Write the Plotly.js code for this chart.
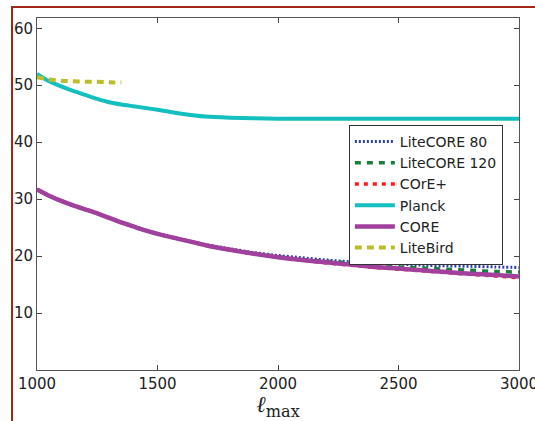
<!DOCTYPE html>
<html>
<head>
<meta charset="utf-8">
<script src="https://cdn.plot.ly/plotly-3.0.1.min.js"></script>
<style>
  html, body { margin: 0; padding: 0; background: #fff; }
  #wrap { position: relative; width: 535px; height: 421px; }
  #chart { width: 535px; height: 421px; }
  #frame {
    position: absolute; left: 11px; top: 6px; width: 530px; height: 420px;
    border-top: 2px solid #a0281a; border-left: 2px solid #a0281a;
    pointer-events: none;
  }
</style>
</head>
<body>
<div id="wrap">
  <div id="chart"></div>
  <div id="frame"></div>
</div>
<script>
// multipole cut-off
const ell = [1000, 1050, 1100, 1150, 1200, 1250, 1300, 1350, 1400, 1450, 1500,
             1600, 1700, 1800, 1900, 2000, 2100, 2200, 2300, 2400, 2500,
             2600, 2700, 2800, 2900, 3000];

const liteCore80 = [31.7, 30.6, 29.7, 28.9, 28.2, 27.5, 26.7, 25.9, 25.2, 24.5, 23.9,
                    22.9, 22.0, 21.3, 20.6, 20.1, 19.7, 19.3, 19.0, 18.8, 18.6,
                    18.4, 18.3, 18.2, 18.1, 18.0];
const liteCore120 = [31.7, 30.6, 29.7, 28.9, 28.2, 27.5, 26.7, 25.9, 25.2, 24.5, 23.9,
                     22.9, 21.9, 21.1, 20.5, 19.9, 19.4, 19.1, 18.8, 18.4, 18.1,
                     17.9, 17.7, 17.5, 17.3, 17.2];
const corePlus = [31.7, 30.6, 29.7, 28.9, 28.2, 27.5, 26.7, 25.9, 25.2, 24.5, 23.9,
                  22.9, 21.9, 21.1, 20.4, 19.8, 19.3, 18.8, 18.4, 18.0, 17.7,
                  17.4, 17.1, 16.8, 16.5, 16.2];
const planck = [52.0, 50.7, 49.8, 49.0, 48.3, 47.6, 47.0, 46.6, 46.3, 46.0, 45.7,
                45.0, 44.5, 44.3, 44.2, 44.1, 44.1, 44.1, 44.1, 44.1, 44.1,
                44.1, 44.1, 44.1, 44.1, 44.1];
const core = [31.7, 30.6, 29.7, 28.9, 28.2, 27.5, 26.7, 25.9, 25.2, 24.5, 23.9,
              22.9, 21.9, 21.1, 20.4, 19.8, 19.3, 18.9, 18.5, 18.1, 17.8,
              17.5, 17.2, 16.9, 16.7, 16.4];

const ellLiteBird = [1000, 1050, 1100, 1150, 1200, 1250, 1300, 1350];
const liteBird = [51.4, 51.0, 50.8, 50.7, 50.6, 50.6, 50.5, 50.5];

const xTicks = [1000, 1500, 2000, 2500, 3000];
const yTicks = [10, 20, 30, 40, 50, 60];

const smooth = { shape: 'spline', smoothing: 0.6 };

const traces = [
  { x: ell, y: liteCore80, name: 'LiteCORE 80', mode: 'lines',
    line: Object.assign({ color: '#2b3f9e', width: 3, dash: '2px,2px' }, smooth) },
  { x: ell, y: liteCore120, name: 'LiteCORE 120', mode: 'lines',
    line: Object.assign({ color: '#17803a', width: 3.5, dash: '6px,6px' }, smooth) },
  { x: ell, y: corePlus, name: 'COrE+', mode: 'lines',
    line: Object.assign({ color: '#ff1a1a', width: 3.5, dash: '4px,5px' }, smooth) },
  { x: ell, y: planck, name: 'Planck', mode: 'lines',
    line: Object.assign({ color: '#14bfbf', width: 4 }, smooth) },
  { x: ell, y: core, name: 'CORE', mode: 'lines',
    line: Object.assign({ color: '#a2409e', width: 4.5 }, smooth) },
  { x: ellLiteBird, y: liteBird, name: 'LiteBird', mode: 'lines',
    line: Object.assign({ color: '#bcbd2a', width: 4, dash: '7px,5px' }, smooth) }
];

const axisCommon = {
  showline: true, linecolor: '#555', linewidth: 1, mirror: 'ticks',
  ticks: 'inside', ticklen: 5, tickcolor: '#444', tickwidth: 1,
  showgrid: false, zeroline: false, ticklabeloverflow: 'allow',
  tickfont: { family: 'DejaVu Sans', size: 15, color: '#222' }
};

const layout = {
  width: 535, height: 421,
  margin: { l: 37, r: 16, t: 18, b: 51 },
  paper_bgcolor: '#fff', plot_bgcolor: '#fff',
  showlegend: true,
  xaxis: Object.assign({}, axisCommon, {
    range: [1000, 3000], tickvals: xTicks, ticktext: xTicks.map(String),
    title: { text: '<i>ℓ</i><sub>max</sub>', standoff: 0,
             font: { family: 'DejaVu Serif', size: 23, color: '#222' } }
  }),
  yaxis: Object.assign({}, axisCommon, {
    range: [0, 61.8], tickvals: yTicks, ticktext: yTicks.map(String)
  }),
  legend: {
    x: 0.647, y: 0.696, xanchor: 'left', yanchor: 'top',
    bgcolor: '#fff', bordercolor: '#333', borderwidth: 1,
    font: { family: 'DejaVu Sans', size: 14, color: '#222' },
    itemwidth: 40, tracegroupgap: 0
  }
};

Plotly.newPlot('chart', traces, layout, { displayModeBar: false, staticPlot: true });
</script>
</body>
</html>
